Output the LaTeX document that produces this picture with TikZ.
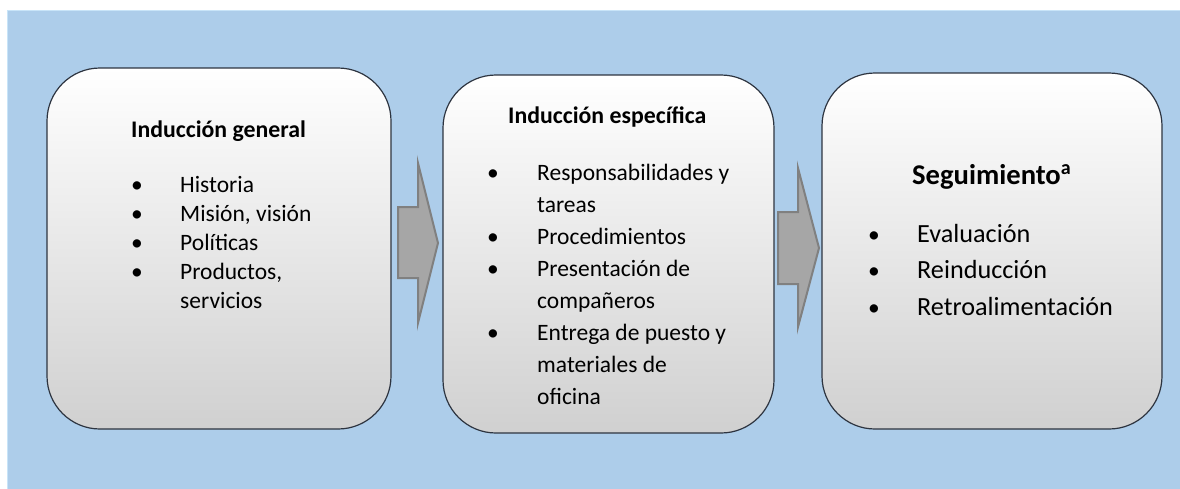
\documentclass[tikz,border=0pt]{standalone}
\usepackage{fontspec}
\setmainfont{Carlito}
\definecolor{bgblue}{RGB}{173,205,234}
\definecolor{bgedge}{RGB}{200,228,248}
\definecolor{boxline}{RGB}{45,52,64}
\definecolor{boxbottom}{RGB}{208,208,208}
\definecolor{arrfill}{RGB}{166,166,166}
\definecolor{arrline}{RGB}{128,128,128}
\tikzset{
  stagebox/.style={draw=boxline, line width=1.2pt, rounded corners=53pt,
    top color=white, bottom color=boxbottom, inner sep=0pt},
  blockarrow/.style={fill=arrfill, draw=arrline, line width=2pt, line join=miter},
  ttl/.style={anchor=base west, inner sep=0pt, font=\fontsize{23.8}{28}\selectfont\bfseries},
  bigttl/.style={anchor=base west, inner sep=0pt, font=\fontsize{28.6}{34}\selectfont\bfseries},
  itm/.style={anchor=base west, inner sep=0pt, font=\fontsize{23.5}{28}\selectfont},
  bigitm/.style={anchor=base west, inner sep=0pt, font=\fontsize{26.2}{31}\selectfont},
  bul/.style={anchor=base, inner sep=0pt, font=\fontsize{23.5}{28}\selectfont},
}
\begin{document}
\begin{tikzpicture}[x=1pt,y=1pt]
\useasboundingbox (0,-488) rectangle (1180,0);
\fill[white] (0,-488) rectangle (1180,0);
\fill[bgblue] (7,-495) rectangle (1187,-10);
\draw[bgedge, line width=1pt] (7,-495) -- (7,-10) -- (1187,-10);

% boxes
\node[stagebox, minimum width=344pt, minimum height=361pt] (b1) at (219,-248.5) {};
\node[stagebox, minimum width=331pt, minimum height=358pt] (b2) at (608.5,-254) {};
\node[stagebox, minimum width=340pt, minimum height=356pt] (b3) at (992,-251) {};

% block arrows
\path[blockarrow] (398,-207) -- (418,-207) -- (418,-163) -- (438,-243) -- (418,-323) -- (418,-278) -- (398,-278) -- cycle;
\path[blockarrow] (778,-212) -- (798,-212) -- (798,-168) -- (819,-248) -- (798,-327) -- (798,-284) -- (778,-284) -- cycle;

% box 1 text
\node[ttl] (t1) at (131,-137) {Inducción general};
\node[bul] (b1a) at (137,-192) {•};
\node[itm] (i1a) at (180,-192) {Historia};
\node[bul] (b1b) at (137,-221) {•};
\node[itm] (i1b) at (180,-221) {Misión, visión};
\node[bul] (b1c) at (137,-250) {•};
\node[itm] (i1c) at (180,-250) {Políticas};
\node[bul] (b1d) at (137,-279) {•};
\node[itm] (i1d) at (180,-279) {Productos,};
\node[itm] (i1e) at (180,-308) {servicios};

% box 2 text
\node[ttl] (t2) at (508,-123) {Inducción específica};
\node[bul] (b2a) at (493,-180) {•};
\node[itm] (i2a) at (537,-180) {Responsabilidades y};
\node[itm] (i2b) at (537,-212) {tareas};
\node[bul] (b2c) at (493,-244) {•};
\node[itm] (i2c) at (537,-244) {Procedimientos};
\node[bul] (b2d) at (493,-276) {•};
\node[itm] (i2d) at (537,-276) {Presentación de};
\node[itm] (i2e) at (537,-308) {compañeros};
\node[bul] (b2f) at (493,-340) {•};
\node[itm] (i2f) at (537,-340) {Entrega de puesto y};
\node[itm] (i2g) at (537,-372) {materiales de};
\node[itm] (i2h) at (537,-404) {oficina};

% box 3 text
\node[bigttl] (t3) at (912,-184) {Seguimiento\textsuperscript{a}};
\node[bul] (b3a) at (874,-242) {•};
\node[bigitm] (i3a) at (917,-242) {Evaluación};
\node[bul] (b3b) at (874,-278.5) {•};
\node[bigitm] (i3b) at (917,-278.5) {Reinducción};
\node[bul] (b3c) at (874,-315) {•};
\node[bigitm] (i3c) at (917,-315) {Retroalimentación};
\end{tikzpicture}
\end{document}
